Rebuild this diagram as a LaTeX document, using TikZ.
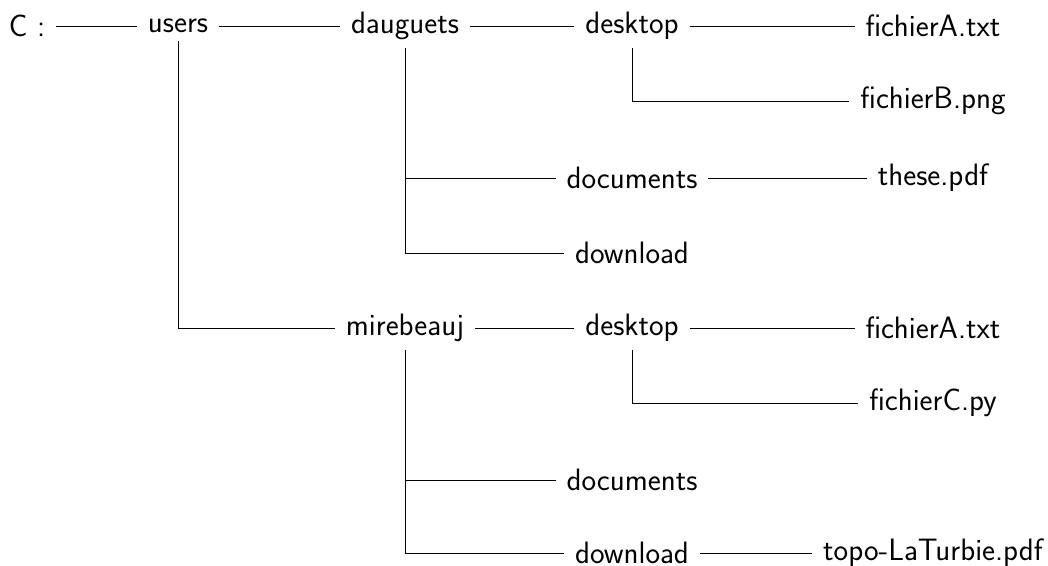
\documentclass[tikz,border=0pt]{standalone}
\usepackage{fontspec}

\begin{document}
\begin{tikzpicture}[x=0.025cm,y=-0.025cm,semithick,
        dossier/.style={font=\fontsize{22}{26}\selectfont\sffamily,inner xsep=7.5pt,inner ysep=5.5pt}]
        \useasboundingbox (0,0) rectangle (1048,566);

        \node[dossier] (C) at (27,26) {C :};
        \node[dossier] (users) at (178,26) {users};

        \node[dossier] (dauguets) at (405,26) {dauguets};
        \node[dossier] (desk1) at (632,26) {desktop};
        \node[dossier] (fA1) at (933,26) {fichierA.txt};
        \node[dossier] (fB) at (933,101) {fichierB.png};
        \node[dossier] (doc1) at (632,178) {documents};
        \node[dossier] (these) at (933,178) {these.pdf};
        \node[dossier] (down1) at (632,253) {download};

        \node[dossier] (mirebeauj) at (405,328) {mirebeauj};
        \node[dossier] (desk2) at (632,328) {desktop};
        \node[dossier] (fA2) at (933,328) {fichierA.txt};
        \node[dossier] (fC) at (933,403) {fichierC.py};
        \node[dossier] (doc2) at (632,480) {documents};
        \node[dossier] (down2) at (632,553) {download};
        \node[dossier] (topo) at (933,553) {topo-LaTurbie.pdf};

        \draw (C) -- (users);
        \draw (users) -- (dauguets);
        \draw (users.south) |- (mirebeauj);

        \draw (dauguets) -- (desk1);
        \draw (dauguets.south) |- (doc1);
        \draw (dauguets.south) |- (down1);
        \draw (desk1) -- (fA1);
        \draw (desk1.south) |- (fB);
        \draw (doc1) -- (these);

        \draw (mirebeauj) -- (desk2);
        \draw (mirebeauj.south) |- (doc2);
        \draw (mirebeauj.south) |- (down2);
        \draw (desk2) -- (fA2);
        \draw (desk2.south) |- (fC);
        \draw (down2) -- (topo);
    \end{tikzpicture}
\end{document}
